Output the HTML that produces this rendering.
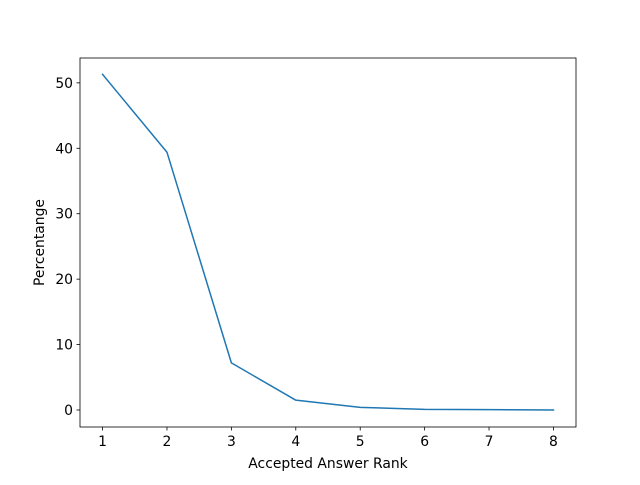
<!DOCTYPE html>
<html><head><meta charset="utf-8"><style>
body{margin:0;background:#fff;}
svg text{font-family:"DejaVu Sans","Liberation Sans",sans-serif;font-size:13.9px;fill:#000;}
</style></head><body>
<svg id="chart" width="640" height="480" xmlns="http://www.w3.org/2000/svg">
<rect width="640" height="480" fill="#fff"/>
</svg>
<script>
const categories=[1,2,3,4,5,6,7,8];
const percentages=[51.3,39.4,7.2,1.5,0.4,0.1,0.05,0.0];
const xTicks=[1,2,3,4,5,6,7,8];
const yTicks=[0,10,20,30,40,50];
const L=80,R=576,T=58,B=427;
const xMin=0.65,xMax=8.35,yMin=-2.6,yMax=53.8;
const sx=v=>L+(v-xMin)/(xMax-xMin)*(R-L);
const sy=v=>B-(v-yMin)/(yMax-yMin)*(B-T);
const svg=document.getElementById('chart');
const NS='http://www.w3.org/2000/svg';
function mk(t,a){const e=document.createElementNS(NS,t);for(const k in a)e.setAttribute(k,a[k]);svg.appendChild(e);return e;}
const frame=mk('rect',{x:L,y:T,width:R-L,height:B-T,fill:'none',stroke:'#000','stroke-width':0.8});


xTicks.forEach(v=>{
  const x=sx(v);
  const tk=mk('line',{x1:x,x2:x,y1:B,y2:B+3.5,stroke:'#000','stroke-width':0.8});
  
  
  const t=mk('text',{x:x,y:B+19,'text-anchor':'middle'});t.textContent=v;
  
  
});
yTicks.forEach(v=>{
  const y=sy(v);
  const tk=mk('line',{x1:L-3.5,x2:L,y1:y,y2:y,stroke:'#000','stroke-width':0.8});
  
  
  const t=mk('text',{x:L-7,y:y+5,'text-anchor':'end'});t.textContent=v;
  
  
});
const pts=categories.map((c,i)=>sx(c)+','+sy(percentages[i])).join(' ');
const line=mk('polyline',{points:pts,fill:'none',stroke:'#1f77b4','stroke-width':1.5,'stroke-linejoin':'round','stroke-linecap':'square'});


const xl=mk('text',{x:(L+R)/2,y:468,'text-anchor':'middle'});xl.textContent='Accepted Answer Rank';


const yl=mk('text',{x:44,y:(T+B)/2,'text-anchor':'middle',transform:'rotate(-90 44 '+(T+B)/2+')'});yl.textContent='Percentange';


</script>
</body></html>
